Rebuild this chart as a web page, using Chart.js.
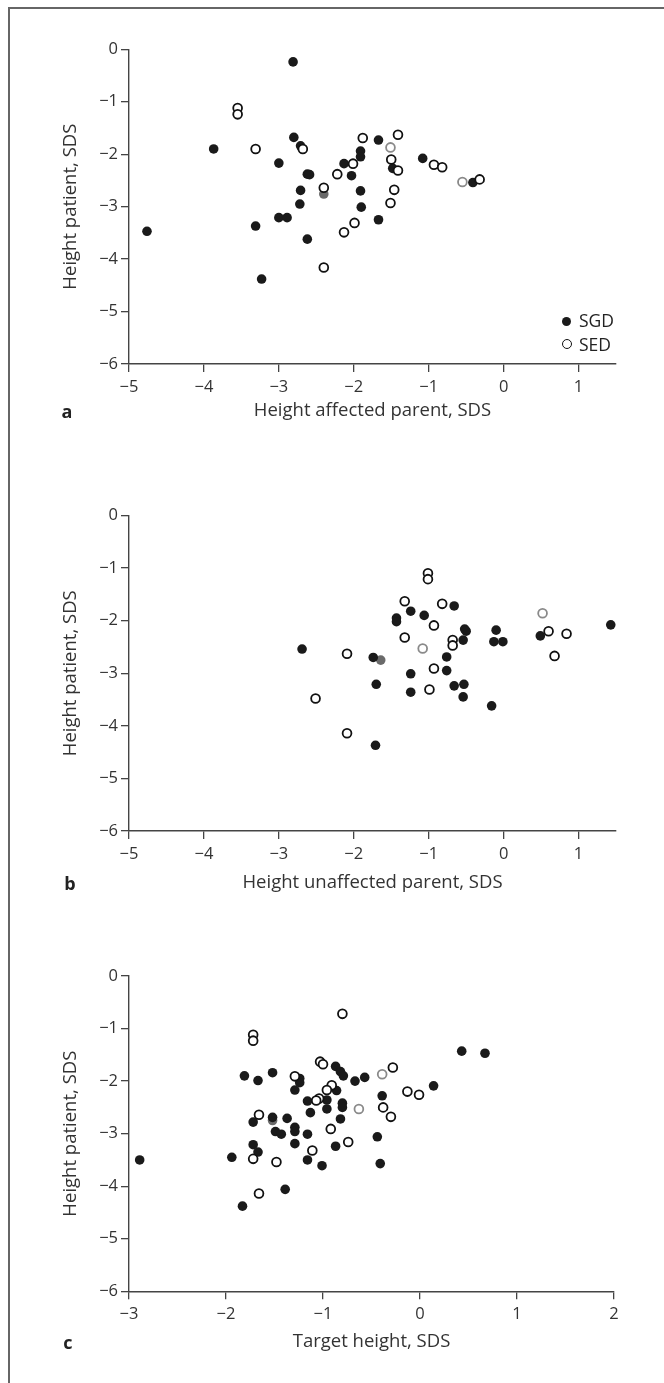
<!DOCTYPE html>
<html>
<head>
<meta charset="utf-8">
<script src="https://cdn.jsdelivr.net/npm/chart.js@4.4.1/dist/chart.umd.min.js"></script>
<style>
  html, body { margin: 0; padding: 0; background: #fff; }
  body { width: 664px; height: 1383px; position: relative; overflow: hidden; font-family: "Open Sans", sans-serif; }
  canvas { position: absolute; left: 0; }
  .frame { position: absolute; left: 8px; top: 7px; width: 660px; height: 1400px; border-top: 2px solid #666; border-left: 2px solid #666; }
  .letter { position: absolute; font: bold 18px "Open Sans", sans-serif; color: #222; transform: translate(-50%, -50%); }
  .leg { position: absolute; font: 17.5px "Open Sans", sans-serif; color: #222; line-height: 20px; }
  .dot { position: absolute; border-radius: 50%; box-sizing: border-box; }
</style>
</head>
<body>
<div class="frame"></div>
<canvas id="ca" width="664" height="460" style="top:0px"></canvas>
<canvas id="cb" width="664" height="460" style="top:460px"></canvas>
<canvas id="cc" width="664" height="463" style="top:920px"></canvas>

<div class="letter" style="left:67px;top:411px">a</div>
<div class="letter" style="left:70px;top:883px">b</div>
<div class="letter" style="left:68px;top:1342px">c</div>

<div class="dot" style="left:561.5px;top:316.5px;width:9.5px;height:9.5px;background:#1a1a1a"></div>
<div class="leg" style="left:579px;top:310px">SGD</div>
<div class="dot" style="left:562px;top:339px;width:10px;height:10px;border:1.8px solid #111;background:#fff"></div>
<div class="leg" style="left:579px;top:334px">SED</div>

<script>
// ---------- DATA ----------
const yTicks = [0, -1, -2, -3, -4, -5, -6];
const xTicksAB = [-5, -4, -3, -2, -1, 0, 1];
const xTicksC = [-3, -2, -1, 0, 1, 2];

const xTitleA = "Height affected parent, SDS";
const xTitleB = "Height unaffected parent, SDS";
const xTitleC = "Target height, SDS";
const yTitle = "Height patient, SDS";

// Panel a: [height affected parent, height patient]
const aSGD = [[-2.81,-0.24],[-3.87,-1.90],[-2.80,-1.68],[-2.71,-1.84],[-3.00,-2.17],[-2.62,-2.38],[-2.59,-2.39],
  [-2.71,-2.69],[-2.72,-2.95],[-3.00,-3.21],[-2.89,-3.21],[-3.31,-3.37],[-2.62,-3.62],[-4.76,-3.47],[-3.23,-4.38],
  [-2.13,-2.18],[-2.03,-2.41],[-1.67,-1.73],[-1.91,-1.94],[-1.91,-2.05],[-1.48,-2.27],[-1.91,-2.70],[-1.90,-3.01],
  [-1.67,-3.25],[-1.08,-2.08],[-0.41,-2.54]];
const aSGDgrey = [[-2.40,-2.76]];
const aSED = [[-3.55,-1.12],[-3.55,-1.24],[-3.31,-1.90],[-2.68,-1.90],[-2.40,-2.64],[-2.40,-4.16],[-2.22,-2.38],
  [-2.01,-2.18],[-2.13,-3.49],[-1.99,-3.31],[-1.88,-1.69],[-1.41,-1.63],[-1.50,-2.10],[-1.41,-2.31],[-1.46,-2.68],
  [-1.51,-2.93],[-0.93,-2.20],[-0.82,-2.25],[-0.32,-2.48]];
const aSEDgrey = [[-1.51,-1.87],[-0.55,-2.53]];

// Panel b: [height unaffected parent, height patient]
const bSGD = [[-2.69,-2.54],[-1.74,-2.70],[-1.70,-3.21],[-1.71,-4.37],[-0.66,-1.72],[-1.24,-1.82],[-1.06,-1.90],
  [-1.43,-1.95],[-1.43,-2.02],[-0.52,-2.16],[-0.50,-2.20],[-0.54,-2.37],[-0.76,-2.69],[-0.76,-2.95],[-1.24,-3.01],
  [-1.24,-3.36],[-0.66,-3.24],[-0.53,-3.21],[-0.54,-3.45],[-0.16,-3.62],[-0.10,-2.18],[-0.13,-2.40],[-0.01,-2.40],
  [0.49,-2.29],[1.43,-2.08]];
const bSGDgrey = [[-1.64,-2.75]];
const bSED = [[-2.09,-2.63],[-2.51,-3.48],[-2.09,-4.14],[-1.01,-1.10],[-1.01,-1.21],[-1.32,-1.63],[-0.82,-1.68],
  [-0.93,-2.09],[-1.32,-2.32],[-0.68,-2.37],[-0.68,-2.47],[-0.93,-2.91],[-0.99,-3.31],[0.60,-2.20],[0.84,-2.25],
  [0.68,-2.67]];
const bSEDgrey = [[-1.08,-2.53],[0.52,-1.86]];

// Panel c: [target height, height patient]
const cSGD = [[-2.89,-3.50],[-1.81,-1.90],[-1.67,-1.99],[-1.52,-1.84],[-1.24,-1.95],[-1.24,-2.03],[-1.29,-2.17],
  [-1.16,-2.38],[-1.13,-2.60],[-1.52,-2.69],[-1.72,-2.78],[-1.37,-2.71],[-1.49,-2.96],[-1.43,-3.01],[-1.29,-2.88],
  [-1.29,-2.96],[-1.16,-3.01],[-1.72,-3.21],[-1.67,-3.35],[-1.29,-3.19],[-1.94,-3.45],[-1.16,-3.50],[-1.01,-3.61],
  [-1.39,-4.06],[-1.83,-4.38],[0.43,-1.43],[0.67,-1.47],[-0.87,-1.72],[-0.82,-1.82],[-0.79,-1.90],[-0.67,-2.00],
  [-0.57,-1.93],[-0.86,-2.18],[-0.96,-2.36],[-0.96,-2.53],[-0.80,-2.42],[-0.80,-2.50],[-0.82,-2.72],[-0.39,-2.28],
  [0.14,-2.09],[-0.44,-3.06],[-0.87,-3.24],[-0.41,-3.57]];
const cSGDgrey = [[-1.52,-2.75]];
const cSED = [[-1.72,-1.12],[-1.72,-1.23],[-1.29,-1.91],[-1.66,-2.64],[-1.72,-3.48],[-1.48,-3.54],[-1.11,-3.32],
  [-1.66,-4.14],[-0.80,-0.72],[-1.03,-1.63],[-1.00,-1.68],[-0.28,-1.74],[-0.91,-2.08],[-0.96,-2.17],[-1.04,-2.33],
  [-1.07,-2.37],[-0.38,-2.50],[-0.30,-2.68],[-0.13,-2.20],[-0.01,-2.26],[-0.92,-2.91],[-0.74,-3.16]];
const cSEDgrey = [[-0.39,-1.87],[-0.63,-2.53]];

// ---------- CHARTS ----------
const FONT = '"Open Sans", sans-serif';
const AX = '#444';
const TSIZE = 18.5;
const LH = TSIZE * 1.2;
const fmt = v => (v < 0 ? '\u2212' + Math.abs(v) : String(v));
const pts = arr => arr.map(p => ({x: p[0], y: p[1]}));

function sets(sgd, sgdG, sed, sedG) {
  return [
    {label: 'SED', data: pts(sed), pointRadius: 4.4, pointBorderWidth: 1.8, pointBorderColor: '#111', pointBackgroundColor: '#fff', order: 1},
    {label: 'SED grey', data: pts(sedG), pointRadius: 4.4, pointBorderWidth: 1.8, pointBorderColor: '#8a8a8a', pointBackgroundColor: '#fff', order: 2},
    {label: 'SGD', data: pts(sgd), pointRadius: 4.8, pointBorderWidth: 0, pointBackgroundColor: '#1a1a1a', order: 3},
    {label: 'SGD grey', data: pts(sgdG), pointRadius: 4.8, pointBorderWidth: 0, pointBackgroundColor: '#6a6a6a', order: 4}
  ];
}

function makeChart(id, cfg) {
  const H = cfg.H;
  const xScaleH = H - cfg.bottom;
  new Chart(document.getElementById(id), {
    type: 'scatter',
    data: {datasets: cfg.datasets},
    options: {
      responsive: false, animation: false, devicePixelRatio: 1,
      layout: {padding: {left: 0, right: 664 - cfg.right, top: cfg.top, bottom: 0}},
      plugins: {legend: {display: false}, tooltip: {enabled: false}},
      elements: {point: {hoverRadius: 5}},
      scales: {
        x: {
          type: 'linear', min: cfg.xmin, max: cfg.xmax,
          afterBuildTicks: s => { s.ticks = cfg.xTicks.map(v => ({value: v})); },
          afterFit: s => { s.height = xScaleH; },
          grid: {drawOnChartArea: false, drawTicks: true, tickLength: 8, color: AX, lineWidth: 1.3},
          border: {display: true, color: AX, width: 1.4},
          ticks: {font: {family: FONT, size: 16.5}, color: '#333', padding: 5, callback: fmt, maxRotation: 0, autoSkip: false},
          title: {display: true, text: cfg.xTitle, color: '#333', font: {family: FONT, size: TSIZE},
                  padding: {top: 0, bottom: H - cfg.xTitleY - LH / 2}}
        },
        y: {
          type: 'linear', min: -6, max: 0,
          afterBuildTicks: s => { s.ticks = yTicks.map(v => ({value: v})); },
          afterFit: s => { s.width = 129; },
          grid: {drawOnChartArea: false, drawTicks: true, tickLength: 8, color: AX, lineWidth: 1.3},
          border: {display: true, color: AX, width: 1.4},
          ticks: {font: {family: FONT, size: 16.5}, color: '#333', padding: 3, callback: fmt, autoSkip: false},
          title: {display: true, text: yTitle, color: '#333', font: {family: FONT, size: TSIZE},
                  padding: {top: 71 - LH / 2, bottom: 0}}
        }
      }
    }
  });
}

makeChart('ca', {H: 460, top: 49.3, bottom: 364, right: 616, xmin: -5, xmax: 1.5, xTicks: xTicksAB,
  xTitle: xTitleA, xTitleY: 411, datasets: sets(aSGD, aSGDgrey, aSED, aSEDgrey)});
makeChart('cb', {H: 460, top: 55.5, bottom: 371, right: 616, xmin: -5, xmax: 1.5, xTicks: xTicksAB,
  xTitle: xTitleB, xTitleY: 423, datasets: sets(bSGD, bSGDgrey, bSED, bSEDgrey)});
makeChart('cc', {H: 463, top: 56, bottom: 371.3, right: 614, xmin: -3, xmax: 2, xTicks: xTicksC,
  xTitle: xTitleC, xTitleY: 422, datasets: sets(cSGD, cSGDgrey, cSED, cSEDgrey)});
</script>
</body>
</html>
